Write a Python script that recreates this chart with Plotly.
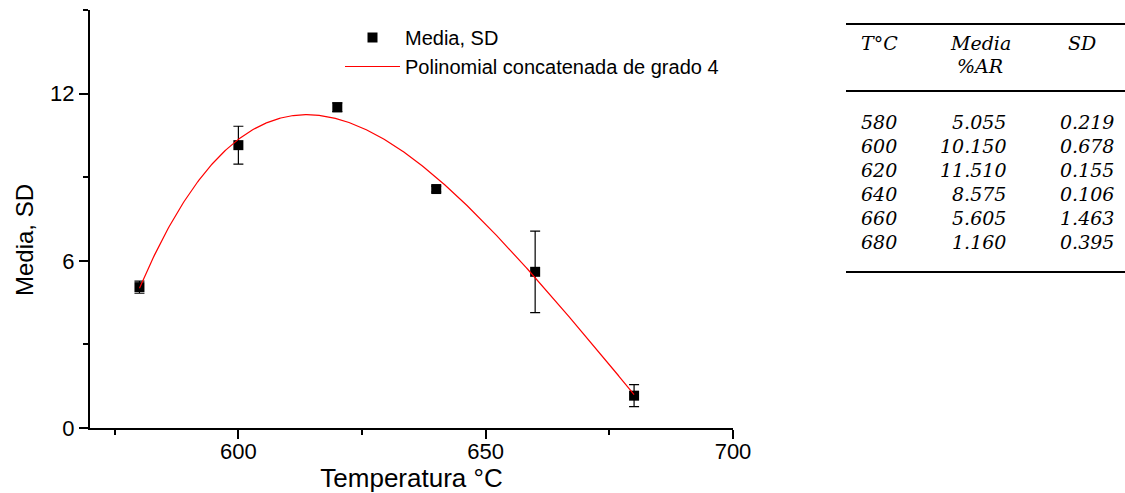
import numpy as np
import plotly.graph_objects as go

# Mean %AR and its standard deviation at each temperature
temperatura = [580, 600, 620, 640, 660, 680]
media = [5.055, 10.150, 11.510, 8.575, 5.605, 1.160]
sd = [0.219, 0.678, 0.155, 0.106, 1.463, 0.395]

x_tick_vals = [600, 650, 700]
y_tick_vals = [0, 6, 12]

# Fourth-degree polynomial fitted to the means
poly = np.polynomial.Polynomial.fit(temperatura, media, 4)
x_fit = np.linspace(min(temperatura), max(temperatura), 400)
y_fit = poly(x_fit)

W, H = 1125, 493
ML, MR, MT, MB = 90, 392, 10, 65
PW, PH = W - ML - MR, H - MT - MB


def px(x):
    """Pixel column -> paper x."""
    return (x - ML) / PW


def py(y):
    """Pixel row -> paper y."""
    return (H - MB - y) / PH


SANS = "Liberation Sans, Arial, sans-serif"
SERIF = "DejaVu Serif, serif"

fig = go.Figure()

fig.add_trace(go.Scatter(
    x=temperatura, y=media, mode="markers", name="Media, SD",
    marker=dict(symbol="square", size=10, color="black"),
    error_y=dict(type="data", array=sd, visible=True, color="black",
                 thickness=1.2, width=5),
))

fig.add_trace(go.Scatter(
    x=x_fit, y=y_fit, mode="lines",
    name="Polinomial concatenada de grado 4",
    line=dict(color="red", width=1.2),
))

axis_common = dict(
    showgrid=False, zeroline=False, showline=True, linecolor="black",
    linewidth=2, ticks="outside", ticklen=9, tickwidth=1.8,
    tickcolor="black", tickfont=dict(family=SANS, size=22, color="black"),
    mirror=False, automargin=False,
)

fig.update_layout(
    width=W, height=H,
    margin=dict(l=ML, r=MR, t=MT, b=MB),
    paper_bgcolor="white", plot_bgcolor="white",
    font=dict(family=SANS, color="black"),
    xaxis=dict(
        range=[570, 700], tickvals=x_tick_vals, ticklabelstandoff=-6,
        minor=dict(dtick=25, tick0=0, ticks="outside", ticklen=5,
                   tickwidth=1.5, tickcolor="black"),
        title=dict(text="Temperatura °C", font=dict(size=26), standoff=3),
        **axis_common,
    ),
    yaxis=dict(
        range=[0, 15], tickvals=y_tick_vals,
        minor=dict(dtick=3, tick0=0, ticks="outside", ticklen=5,
                   tickwidth=1.5, tickcolor="black"),
        **axis_common,
    ),
    legend=dict(
        x=px(340), y=py(18), xanchor="left", yanchor="top",
        font=dict(family=SANS, size=20, color="black"),
        bgcolor="rgba(0,0,0,0)", borderwidth=0, tracegroupgap=0,
        itemwidth=55,
    ),
    showlegend=True,
)

annotations = []

# Y-axis title, set a little below the centre of the axis
annotations.append(dict(
    text="Media, SD", x=px(24), y=py(240), xref="paper", yref="paper",
    xanchor="center", yanchor="middle", textangle=-90, showarrow=False,
    font=dict(family=SANS, size=24, color="black"),
))

# Summary table to the right of the plot
left_T = 859
right_media = 1008
center_media = 980
right_sd = 1116
center_sd = 1082
row0 = 122
row_step = 24


def cell(text, x, y, anchor):
    annotations.append(dict(
        text=f"<i>{text}</i>", x=px(x), y=py(y), xref="paper", yref="paper",
        xanchor=anchor, yanchor="middle", showarrow=False,
        font=dict(family=SERIF, size=19, color="black"),
    ))


cell("T°C", left_T, 43, "left")
cell("Media", center_media, 43, "center")
cell("%AR", center_media, 66, "center")
cell("SD", center_sd, 43, "center")

for i, (t, m, s) in enumerate(zip(temperatura, media, sd)):
    y = row0 + i * row_step
    cell(f"{t}", left_T, y, "left")
    cell(f"{m:.3f}", right_media, y, "right")
    cell(f"{s:.3f}", right_sd, y, "right")

shapes = []
for y in (24, 91, 272):
    shapes.append(dict(
        type="line", xref="paper", yref="paper",
        x0=px(846), x1=px(1125), y0=py(y), y1=py(y),
        line=dict(color="black", width=2),
    ))

fig.update_layout(annotations=annotations, shapes=shapes)

fig.write_html("out.html")
